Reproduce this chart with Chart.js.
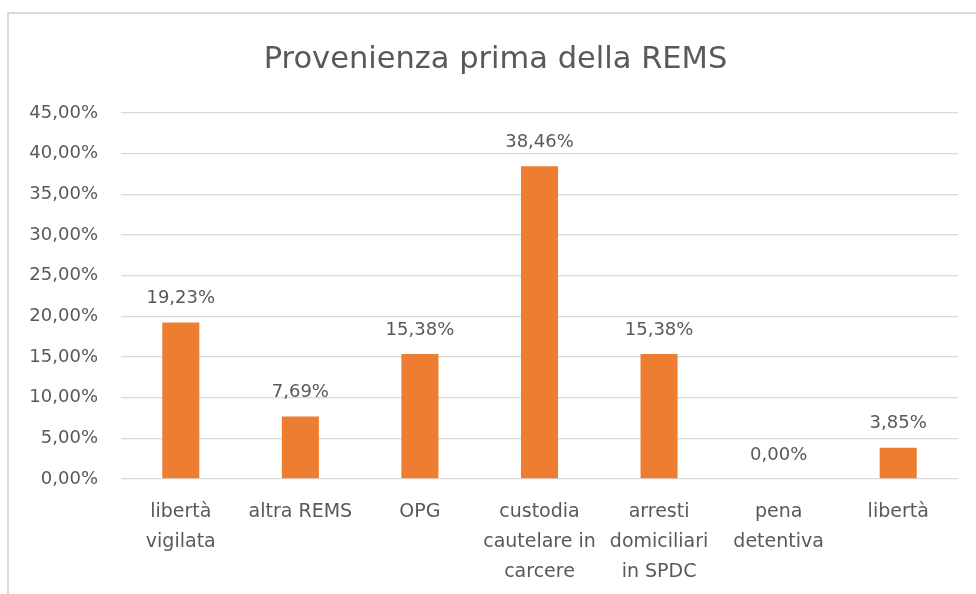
<!DOCTYPE html>
<html>
<head>
<meta charset="utf-8">
<script src="https://cdn.jsdelivr.net/npm/chart.js@4.4.1/dist/chart.umd.min.js"></script>
<style>
  html, body { margin: 0; padding: 0; background: #fff; }
  #wrap { position: relative; width: 976px; height: 594px; overflow: hidden; }
  #frame { position: absolute; left: 7px; top: 12px; width: 1000px; height: 700px;
           border-left: 2px solid #d9d9d9; border-top: 2px solid #d9d9d9; box-sizing: border-box; }
  canvas { position: absolute; left: 0; top: 0; }
</style>
</head>
<body>
<div id="wrap">
  <div id="frame"></div>
  <canvas id="c" width="976" height="594"></canvas>
</div>
<script>
const chartTitle = 'Provenienza prima della REMS';
const categories = [
  ['libertà', 'vigilata'],
  'altra REMS',
  'OPG',
  ['custodia', 'cautelare in', 'carcere'],
  ['arresti', 'domiciliari', 'in SPDC'],
  ['pena', 'detentiva'],
  'libertà'
];
const values = [19.23, 7.69, 15.38, 38.46, 15.38, 0.00, 3.85];
const yMin = 0, yMax = 45, yStep = 5;

const fmt = v => v.toFixed(2).replace('.', ',') + '%';
const textColor = '#595959';

const dataLabels = {
  id: 'dataLabels',
  afterDatasetsDraw(chart) {
    const ctx = chart.ctx;
    const meta = chart.getDatasetMeta(0);
    ctx.save();
    ctx.font = '18px "DejaVu Sans"';
    ctx.fillStyle = textColor;
    ctx.textAlign = 'center';
    ctx.textBaseline = 'middle';
    meta.data.forEach((bar, i) => {
      ctx.fillText(fmt(values[i]), bar.x, bar.y - 24);
    });
    ctx.restore();
  }
};

const titleDraw = {
  id: 'titleDraw',
  afterDraw(chart) {
    const ctx = chart.ctx;
    ctx.save();
    ctx.font = '30.5px "DejaVu Sans"';
    ctx.fillStyle = textColor;
    ctx.textAlign = 'center';
    ctx.textBaseline = 'alphabetic';
    ctx.fillText(chartTitle, 495.5, 68);
    ctx.restore();
  }
};

new Chart(document.getElementById('c'), {
  type: 'bar',
  data: {
    labels: categories,
    datasets: [{
      data: values,
      backgroundColor: '#ED7D31',
      borderWidth: 0,
      barPercentage: 0.31,
      categoryPercentage: 1.0
    }]
  },
  options: {
    responsive: false,
    animation: false,
    events: [],
    layout: { padding: { left: 8, right: 18, top: 113, bottom: 7 } },
    plugins: {
      legend: { display: false },
      tooltip: { enabled: false },
      title: { display: false }
    },
    scales: {
      x: {
        afterFit(scale) { scale.height = 108; },
        grid: { display: false, drawTicks: false, tickLength: 0 },
        border: { display: false },
        ticks: {
          color: textColor,
          padding: 18,
          maxRotation: 0,
          autoSkip: false,
          font: { family: 'DejaVu Sans', size: 19, lineHeight: 30 / 19 }
        }
      },
      y: {
        min: yMin,
        max: yMax,
        afterFit(scale) { scale.width = 113; },
        grid: { color: '#d9d9d9', lineWidth: 1.3, drawTicks: false },
        border: { display: false },
        ticks: {
          stepSize: yStep,
          color: textColor,
          padding: 23,
          font: { family: 'DejaVu Sans', size: 18 },
          callback: v => fmt(v)
        }
      }
    }
  },
  plugins: [dataLabels, titleDraw]
});
</script>
</body>
</html>
